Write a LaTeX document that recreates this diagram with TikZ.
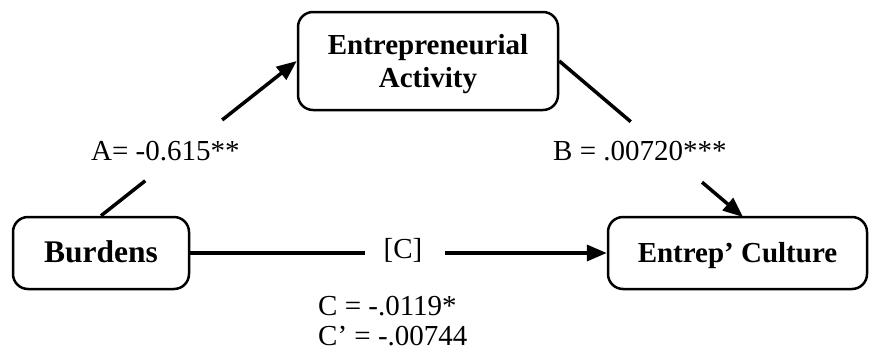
\documentclass[tikz,border=0pt]{standalone}
\usepackage{fontspec}
\setmainfont{Liberation Serif}
\usetikzlibrary{calc,arrows.meta}
\begin{document}
\begin{tikzpicture}[x=1pt,y=-1pt,
  box/.style={draw,line width=2.5pt,rounded corners=15pt,inner sep=0pt,
    font=\fontsize{29}{33}\selectfont\bfseries,align=center},
  conn/.style={line width=3.5pt},
  arr/.style={conn,-{Triangle[length=20pt,width=16pt]}},
  lbl/.style={font=\fontsize{29}{30}\selectfont,inner sep=0pt}]
\useasboundingbox (0,0) rectangle (869,351);
\node[box,minimum width=260pt,minimum height=98pt,text depth=0pt] (ea) at (428,61) {Entrepreneurial\\Activity};
\node[box,minimum width=176pt,minimum height=72pt,text height=20pt,text depth=2pt,
  font=\fontsize{31.5}{33}\selectfont\bfseries] (bu) at (101,253) {Burdens};
\node[box,minimum width=259pt,minimum height=72pt,text height=20pt,text depth=2pt] (cu) at (737.5,253) {Entrep’ Culture};
% A path
\coordinate (a1) at ($(bu.north)!0.226!(ea.west)$);
\coordinate (a2) at ($(bu.north)!0.619!(ea.west)$);
\draw[conn] (bu.north) -- (a1);
\draw[arr] (a2) -- (ea.west);
\node[lbl,anchor=base west] (la) at (91,160) {A= -0.615**};
% B path
\coordinate (b0) at (743,217);
\coordinate (b1) at ($(ea.east)!0.389!(b0)$);
\coordinate (b2) at ($(ea.east)!0.777!(b0)$);
\draw[conn] (ea.east) -- (b1);
\draw[arr] (b2) -- (b0);
\node[lbl,anchor=base west] (lb) at (553,160) {B = .00720***};
% C path
\node[lbl,anchor=base] (lc) at (403,258) {[C]};
\coordinate (c1) at (365,253);
\coordinate (c2) at (445,253);
\draw[conn] (bu.east) -- (c1);
\draw[arr] (c2) -- (cu.west);
\node[lbl,anchor=base west] (lc1) at (318,315) {C = -.0119*};
\node[lbl,anchor=base west] (lc2) at (318,345) {C’ = -.00744};
\end{tikzpicture}
\end{document}
